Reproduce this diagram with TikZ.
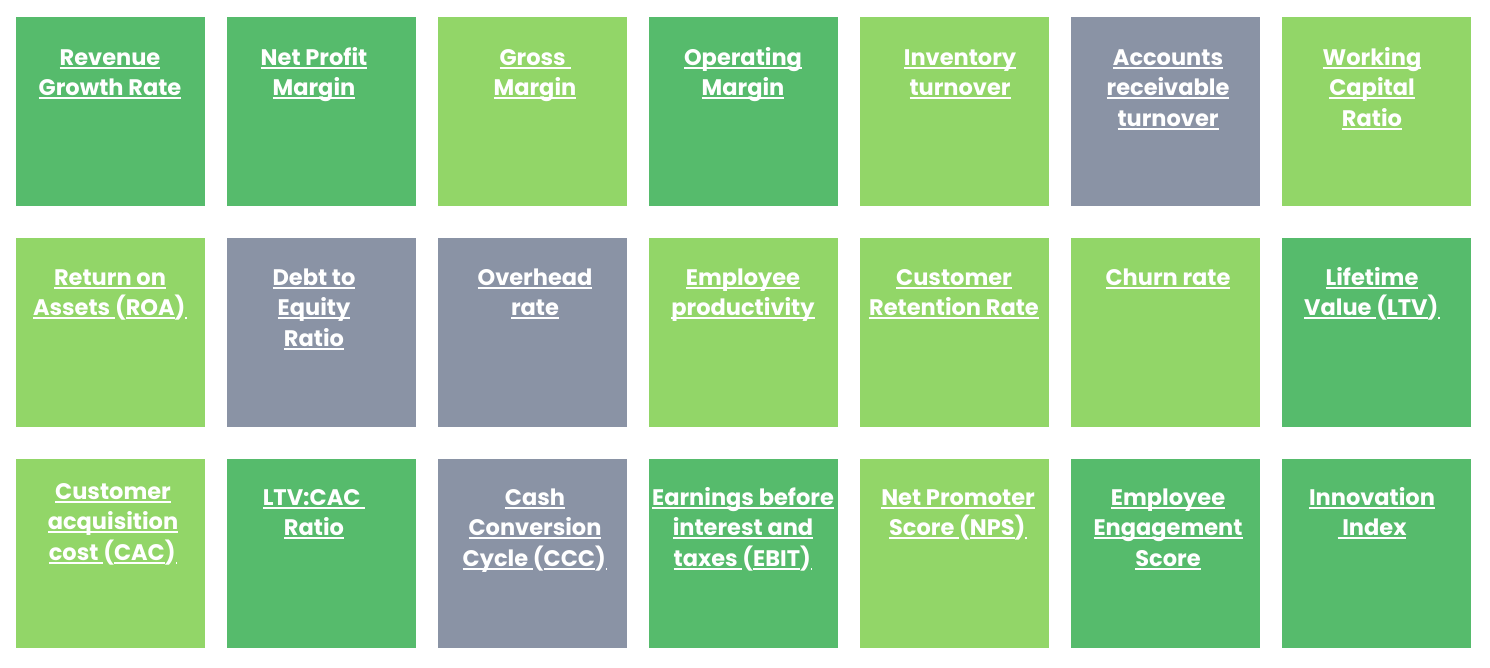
\documentclass[tikz,border=0pt]{standalone}
\usepackage{fontspec}
\setmainfont{Poppins}[UprightFont=*-Bold]
\newsavebox{\ulbox}
\newcommand{\U}[1]{\sbox{\ulbox}{#1}\rlap{\rule[-3.6pt]{\wd\ulbox}{1.9pt}}\usebox{\ulbox}}
\newcommand{\fl}{\rule{0pt}{20pt}}
\definecolor{dgreen}{HTML}{56BB6C}
\definecolor{lgreen}{HTML}{92D668}
\definecolor{sgray}{HTML}{8A93A5}
\tikzset{
  tile/.style={draw=none, minimum width=189pt, minimum height=189pt, inner sep=0pt, anchor=north west},
  lab/.style={text=white, align=center, anchor=north, inner sep=0pt, font=\fontsize{22.5}{30.5}\selectfont},
}
\begin{document}
\begin{tikzpicture}[x=1pt,y=-1pt]
\useasboundingbox[fill=white] (0,0) rectangle (1490,668);
% row 1
\node[tile,fill=dgreen] (b11) at (16,17) {};
\node[tile,fill=dgreen] (b12) at (227,17) {};
\node[tile,fill=lgreen] (b13) at (438,17) {};
\node[tile,fill=dgreen] (b14) at (649,17) {};
\node[tile,fill=lgreen] (b15) at (860,17) {};
\node[tile,fill=sgray]  (b16) at (1071,17) {};
\node[tile,fill=lgreen] (b17) at (1282,17) {};
% row 2
\node[tile,fill=lgreen] (b21) at (16,238) {};
\node[tile,fill=sgray]  (b22) at (227,238) {};
\node[tile,fill=sgray]  (b23) at (438,238) {};
\node[tile,fill=lgreen] (b24) at (649,238) {};
\node[tile,fill=lgreen] (b25) at (860,238) {};
\node[tile,fill=lgreen] (b26) at (1071,238) {};
\node[tile,fill=dgreen] (b27) at (1282,238) {};
% row 3
\node[tile,fill=lgreen] (b31) at (16,459) {};
\node[tile,fill=dgreen] (b32) at (227,459) {};
\node[tile,fill=sgray]  (b33) at (438,459) {};
\node[tile,fill=dgreen] (b34) at (649,459) {};
\node[tile,fill=lgreen] (b35) at (860,459) {};
\node[tile,fill=dgreen] (b36) at (1071,459) {};
\node[tile,fill=dgreen] (b37) at (1282,459) {};
% labels row 1 (first baseline at y=65)
\node[lab] (t11) at (110,45) {\fl\U{Revenue}\\\U{Growth Rate}};
\node[lab] (t12) at (314,45) {\fl\U{Net Profit}\\\U{Margin}};
\node[lab] (t13) at (535,45) {\fl\U{Gross~}\\\U{Margin}};
\node[lab] (t14) at (743,45) {\fl\U{Operating}\\\U{Margin}};
\node[lab] (t15) at (960,45) {\fl\U{Inventory}\\\U{turnover}};
\node[lab] (t16) at (1168,45) {\fl\U{Accounts}\\\U{receivable}\\\U{turnover}};
\node[lab] (t17) at (1372,45) {\fl\U{Working}\\\U{Capital}\\\U{Ratio}};
% labels row 2 (first baseline at y=285)
\node[lab] (t21) at (110,265) {\fl\U{Return on}\\\U{Assets~}(\U{ROA})\U{\kern1.5pt}};
\node[lab] (t22) at (314,265) {\fl\U{Debt to}\\\U{Equity}\\\U{Ratio}};
\node[lab] (t23) at (535,265) {\fl\U{Overhead}\\\U{rate}};
\node[lab] (t24) at (743,265) {\fl\U{Employee}\\\U{productivity}};
\node[lab] (t25) at (954,265) {\fl\U{Customer}\\\U{Retention Rate}};
\node[lab] (t26) at (1168,265) {\fl\U{Churn rate}};
\node[lab] (t27) at (1372,265) {\fl\U{Lifetime}\\\U{Value~}(\U{LTV})\U{\kern1.5pt}};
% labels row 3 (first baseline at y=505)
\node[lab] (t31) at (113,479) {\fl\U{Customer}\\\U{acquisition}\\\U{cost~}(\U{CAC})\U{\kern1.5pt}};
\node[lab] (t32) at (314,485) {\fl\U{LTV:CAC~}\\\U{Ratio}};
\node[lab] (t33) at (535,485) {\fl\U{Cash}\\\U{Conversion}\\\U{Cycle~}(\U{CCC})\U{\kern1.5pt}};
\node[lab] (t34) at (743,485) {\fl\U{Earnings before}\\\U{interest and}\\\U{taxes~}(\U{EBIT})\U{\kern1.5pt}};
\node[lab] (t35) at (958,485) {\fl\U{Net Promoter}\\\U{Score~}(\U{NPS})\U{\kern1.5pt}};
\node[lab] (t36) at (1168,485) {\fl\U{Employee}\\\U{Engagement}\\\U{Score}};
\node[lab] (t37) at (1372,485) {\fl\U{Innovation}\\\U{~Index}};
\end{tikzpicture}
\end{document}
